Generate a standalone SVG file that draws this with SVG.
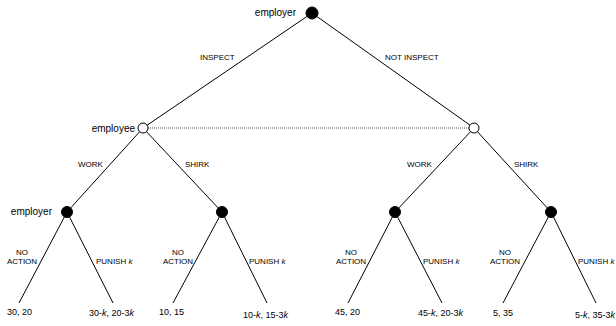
<svg xmlns="http://www.w3.org/2000/svg" width="616" height="326" viewBox="0 0 616 326">
<style>
.e{stroke:#000;stroke-width:1;fill:none}
.info{stroke:#555;stroke-width:1;stroke-dasharray:1 1;fill:none}
.dec{fill:#000;stroke:#000;stroke-width:1}
.chance{fill:#fff;stroke:#000;stroke-width:1}
text{font-family:"Liberation Sans",Arial,sans-serif;fill:#000}
.nl{font-size:10px}
.el{font-size:8px}
.pay{font-size:9px}
</style>
<rect width="616" height="326" fill="#fff"/>
<g id="connectors">
<line class="e" x1="312" y1="13" x2="143" y2="128"/>
<line class="e" x1="312" y1="13" x2="474" y2="128"/>
<line class="info" x1="148" y1="128" x2="469" y2="128"/>
<line class="e" x1="143" y1="128" x2="67" y2="212"/>
<line class="e" x1="143" y1="128" x2="222" y2="212"/>
<line class="e" x1="474" y1="128" x2="395" y2="212"/>
<line class="e" x1="474" y1="128" x2="551" y2="212"/>
<line class="e" x1="67" y1="212" x2="19" y2="303"/>
<line class="e" x1="67" y1="212" x2="113" y2="303"/>
<line class="e" x1="222" y1="212" x2="173" y2="303"/>
<line class="e" x1="222" y1="212" x2="267" y2="303"/>
<line class="e" x1="395" y1="212" x2="348" y2="303"/>
<line class="e" x1="395" y1="212" x2="442" y2="303"/>
<line class="e" x1="551" y1="212" x2="503" y2="303"/>
<line class="e" x1="551" y1="212" x2="596" y2="303"/>
<text class="el" x="200" y="60">INSPECT</text>
<text class="el" x="385" y="60">NOT INSPECT</text>
<text class="el" x="78" y="167">WORK</text>
<text class="el" x="185" y="167">SHIRK</text>
<text class="el" x="407" y="167">WORK</text>
<text class="el" x="514" y="167">SHIRK</text>
<text class="el" text-anchor="middle" x="22" y="255">NO</text>
<text class="el" text-anchor="middle" x="22" y="264">ACTION</text>
<text class="el" x="96" y="264">PUNISH <tspan font-style="italic">k</tspan></text>
<text class="el" text-anchor="middle" x="178" y="255">NO</text>
<text class="el" text-anchor="middle" x="178" y="264">ACTION</text>
<text class="el" x="249" y="264">PUNISH <tspan font-style="italic">k</tspan></text>
<text class="el" text-anchor="middle" x="351" y="255">NO</text>
<text class="el" text-anchor="middle" x="351" y="264">ACTION</text>
<text class="el" x="423" y="264">PUNISH <tspan font-style="italic">k</tspan></text>
<text class="el" text-anchor="middle" x="505" y="255">NO</text>
<text class="el" text-anchor="middle" x="505" y="264">ACTION</text>
<text class="el" x="578" y="264">PUNISH <tspan font-style="italic">k</tspan></text>
</g>
<g id="root">
<circle class="dec" cx="312" cy="13" r="6"/>
<text class="nl" x="296" y="16" text-anchor="end">employer</text>
</g>
<g id="employee-inspect">
<circle class="chance" cx="143" cy="128" r="5"/>
<text class="nl" x="135" y="132" text-anchor="end">employee</text>
</g>
<g id="employee-notinspect">
<circle class="chance" cx="474" cy="128" r="5"/>
</g>
<g id="employer-iw">
<circle class="dec" cx="67" cy="212" r="5.5"/>
<text class="nl" x="52" y="215" text-anchor="end">employer</text>
</g>
<g id="employer-is"><circle class="dec" cx="222" cy="212" r="5.5"/></g>
<g id="employer-nw"><circle class="dec" cx="395" cy="212" r="5.5"/></g>
<g id="employer-ns"><circle class="dec" cx="551" cy="212" r="5.5"/></g>
<g id="leaf-1"><text class="pay" x="7" y="315">30, 20</text></g>
<g id="leaf-2"><text class="pay" x="89" y="316">30-<tspan font-style="italic">k</tspan>, 20-3<tspan font-style="italic">k</tspan></text></g>
<g id="leaf-3"><text class="pay" x="159" y="315">10, 15</text></g>
<g id="leaf-4"><text class="pay" x="243" y="318">10-<tspan font-style="italic">k</tspan>, 15-3<tspan font-style="italic">k</tspan></text></g>
<g id="leaf-5"><text class="pay" x="335" y="315">45, 20</text></g>
<g id="leaf-6"><text class="pay" x="418" y="316">45-<tspan font-style="italic">k</tspan>, 20-3<tspan font-style="italic">k</tspan></text></g>
<g id="leaf-7"><text class="pay" x="493" y="316">5, 35</text></g>
<g id="leaf-8"><text class="pay" x="575" y="318">5-<tspan font-style="italic">k</tspan>, 35-3<tspan font-style="italic">k</tspan></text></g>
</svg>
